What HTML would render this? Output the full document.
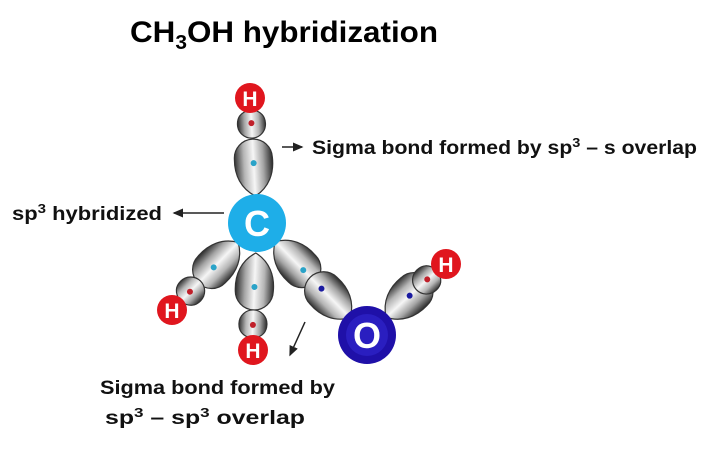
<!DOCTYPE html>
<html><head><meta charset="utf-8"><style>
html,body{margin:0;padding:0;background:#fff;}
svg{display:block;font-family:"Liberation Sans",sans-serif;font-weight:bold;}
</style></head><body>
<svg width="720" height="451" viewBox="0 0 720 451" xmlns="http://www.w3.org/2000/svg">
<defs>
<linearGradient id="g" x1="0" y1="0" x2="0" y2="1">
<stop offset="0" stop-color="#333"/><stop offset="0.25" stop-color="#b5b5b5"/><stop offset="0.5" stop-color="#f6f6f6"/><stop offset="0.75" stop-color="#a5a5a5"/><stop offset="1" stop-color="#2a2a2a"/>
</linearGradient>
<marker id="a" markerWidth="8" markerHeight="8" refX="6" refY="3" orient="auto"><path d="M0,0 L7,3 L0,6 Z" fill="#222"/></marker>
<path id="big" d="M0,0 C8,-14 22,-20 38,-19 A19,19 0 0 1 38,19 C22,20 8,14 0,0Z" fill="url(#g)" stroke="#333" stroke-width="1.2"/>
<path id="sm" d="M0,0 C3,-11 8,-14 15,-14 A14,14 0 0 1 15,14 C8,14 3,11 0,0Z" fill="url(#g)" stroke="#333" stroke-width="1.2"/>
</defs>
<text x="130" y="42" font-size="30" textLength="308" lengthAdjust="spacingAndGlyphs">CH<tspan font-size="20" dy="7">3</tspan><tspan dy="-7">OH hybridization</tspan></text>

<g transform="translate(257,223) rotate(-93.2)">
<use href="#big" transform="translate(27,0)"/>
<g transform="translate(114,0) rotate(180)"><use href="#sm"/></g>
<circle cx="60" cy="0" r="3" fill="#2aa3c8"/><circle cx="100" cy="0" r="3" fill="#c0202a"/>
</g>
<g transform="translate(257,223) rotate(134.3)">
<use href="#big" transform="translate(27,0)"/>
<g transform="translate(110,0) rotate(180)"><use href="#sm"/></g>
<circle cx="62" cy="0" r="3" fill="#2aa3c8"/><circle cx="96" cy="0" r="3" fill="#c0202a"/>
</g>
<g transform="translate(257,223) rotate(92.3)">
<use href="#big" transform="translate(30,0)"/>
<g transform="translate(116,0) rotate(180)"><use href="#sm"/></g>
<circle cx="64" cy="0" r="3" fill="#2aa3c8"/><circle cx="102" cy="0" r="3" fill="#c0202a"/>
</g>
<g transform="translate(257,223) rotate(45.5)">
<use href="#big" transform="translate(26,0)"/>
<g transform="translate(133,0) rotate(180)"><use href="#big"/></g>
<circle cx="66" cy="0" r="3" fill="#2aa3c8"/><circle cx="92" cy="0" r="3" fill="#1a1aa0"/>
</g>
<g transform="translate(367,335) rotate(-42.7)">
<use href="#big" transform="translate(26,0)"/>
<g transform="translate(96,0) rotate(180)"><use href="#sm"/></g>
<circle cx="58" cy="0" r="3" fill="#1a1aa0"/><circle cx="82" cy="0" r="3" fill="#c0202a"/>
</g>

<circle cx="257" cy="223" r="29" fill="#1eaee8"/>
<text x="257" y="236" font-size="36" fill="#fff" text-anchor="middle">C</text>
<circle cx="367" cy="335" r="29" fill="#1f10a8"/>
<circle cx="367" cy="335" r="21" fill="#2a1ec0"/>
<text x="367" y="348" font-size="36" fill="#fff" text-anchor="middle">O</text>
<g font-size="21" fill="#fff" text-anchor="middle">
<circle cx="250" cy="98" r="15" fill="#e0161e"/><text x="250" y="106">H</text>
<circle cx="172" cy="310" r="15" fill="#e0161e"/><text x="172" y="318">H</text>
<circle cx="253" cy="350" r="15" fill="#e0161e"/><text x="253" y="358">H</text>
<circle cx="446" cy="264" r="15" fill="#e0161e"/><text x="446" y="272">H</text>
</g>

<line x1="282" y1="147" x2="302" y2="147" stroke="#222" stroke-width="1.5" marker-end="url(#a)"/>
<text x="312" y="154" font-size="19" fill="#111" textLength="385" lengthAdjust="spacingAndGlyphs">Sigma bond formed by sp<tspan font-size="13" dy="-7">3</tspan><tspan dy="7"> – s overlap</tspan></text>
<line x1="224" y1="213" x2="174" y2="213" stroke="#222" stroke-width="1.5" marker-end="url(#a)"/>
<text x="12" y="220" font-size="19" fill="#111" textLength="150" lengthAdjust="spacingAndGlyphs">sp<tspan font-size="13" dy="-7">3</tspan><tspan dy="7"> hybridized</tspan></text>
<line x1="305" y1="322" x2="290" y2="355" stroke="#222" stroke-width="1.5" marker-end="url(#a)"/>
<text x="100" y="394" font-size="19" fill="#111" textLength="235" lengthAdjust="spacingAndGlyphs">Sigma bond formed by</text>
<text x="105" y="424" font-size="19" fill="#111" textLength="200" lengthAdjust="spacingAndGlyphs">sp<tspan font-size="13" dy="-7">3</tspan><tspan dy="7"> – sp</tspan><tspan font-size="13" dy="-7">3</tspan><tspan dy="7"> overlap</tspan></text>
</svg>
</body></html>
